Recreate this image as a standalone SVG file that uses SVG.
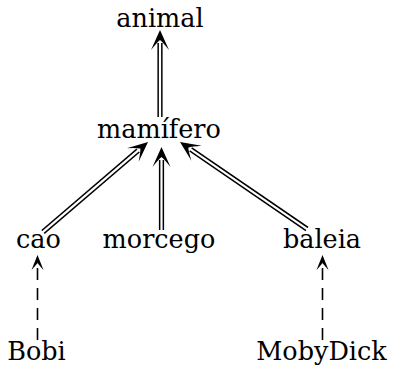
<svg xmlns="http://www.w3.org/2000/svg" xmlns:xlink="http://www.w3.org/1999/xlink" width="393" height="372" viewBox="0 0 393 372">
<style>
text{font-family:"DejaVu Serif",serif;font-size:25.5px;fill:#000;text-anchor:middle}
.dblo{stroke:#000;stroke-width:5.2;fill:none}
.dbli{stroke:#fff;stroke-width:2.2;fill:none}
.dash{stroke:#000;stroke-width:1.6;fill:none;stroke-dasharray:12 8}
</style>
<defs>
<path id="dhead" d="M0,0 L-20,-9 Q-12.5,-3 -10,0 Q-12.5,3 -20,9 Z" fill="#000"/>
<path id="shead" d="M0,0 L-15,-6 Q-10,-1.5 -8,0 Q-10,1.5 -15,6 Z" fill="#000"/>
</defs>
<rect width="393" height="372" fill="#fff"/>
<g id="connectors">
<g id="e-mamifero-animal">
<path class="dblo" d="M160,117 L160,43"/>
<path class="dbli" d="M160,118 L160,42"/>
<use xlink:href="#dhead" transform="translate(160,30) rotate(-90)"/>
</g>
<g id="e-cao-mamifero">
<path class="dblo" d="M43,232 L138.1,150.5"/>
<path class="dbli" d="M42.2,232.7 L138.9,149.8"/>
<use xlink:href="#dhead" transform="translate(148,142) rotate(-40.6)"/>
</g>
<g id="e-morcego-mamifero">
<path class="dblo" d="M161.5,230 L161.5,160"/>
<path class="dbli" d="M161.5,231 L161.5,159"/>
<use xlink:href="#dhead" transform="translate(161.5,147) rotate(-90)"/>
</g>
<g id="e-baleia-mamifero">
<path class="dblo" d="M307,229 L190.7,149.3"/>
<path class="dbli" d="M307.8,229.6 L189.9,148.8"/>
<use xlink:href="#dhead" transform="translate(180,142) rotate(-145.6)"/>
</g>
<g id="e-bobi-cao">
<path class="dash" d="M37.5,340 L37.5,263"/>
<use xlink:href="#shead" transform="translate(37.5,255) rotate(-90)"/>
</g>
<g id="e-mobydick-baleia">
<path class="dash" d="M322.5,340 L322.5,263"/>
<use xlink:href="#shead" transform="translate(322.5,255) rotate(-90)"/>
</g>
</g>
<g id="animal"><text x="160" y="27">animal</text></g>
<g id="mamifero"><text x="159" y="138">mamífero</text></g>
<g id="cao"><text x="38.5" y="248">cao</text></g>
<g id="morcego"><text x="159" y="248">morcego</text></g>
<g id="baleia"><text x="322" y="248">baleia</text></g>
<g id="Bobi"><text x="36.5" y="360">Bobi</text></g>
<g id="MobyDick"><text x="321.5" y="360">MobyDick</text></g>
</svg>
